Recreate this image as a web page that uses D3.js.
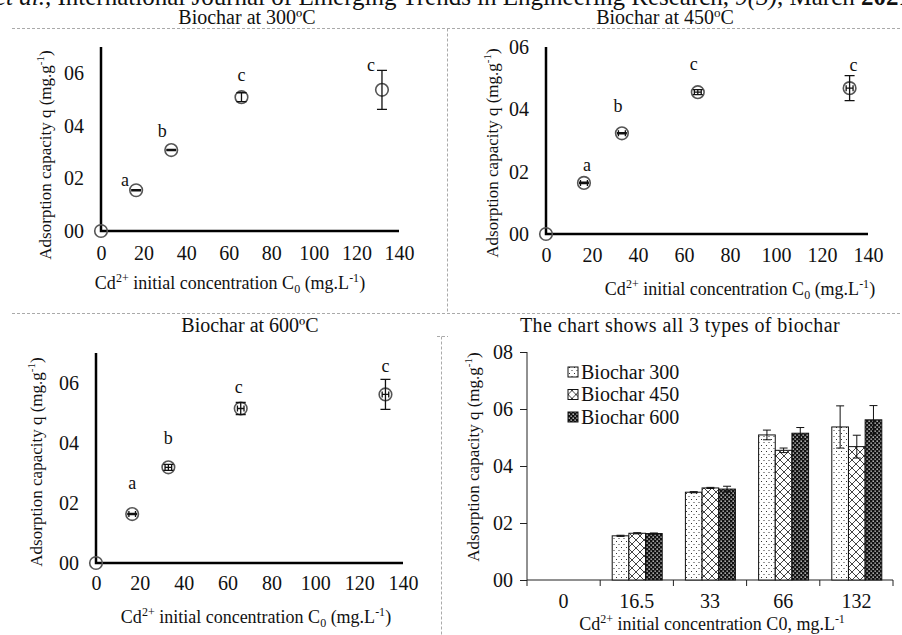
<!DOCTYPE html>
<html>
<head>
<meta charset="utf-8">
<script src="https://cdn.jsdelivr.net/npm/d3@7"></script>
<style>
  body { margin: 0; background: #fff; }
  svg { display: block; font-family: "Liberation Serif", "Times New Roman", serif; }
  svg text { font-family: "Liberation Serif", "Times New Roman", serif; }
</style>
</head>
<body>
<script>
const svgW = 902;
const svgH = 635;
const serif = '"Liberation Serif", "Times New Roman", serif';

// data
const concentrations = [0, 16.5, 33, 66, 132];
const categories = ['0', '16.5', '33', '66', '132'];
const seriesNames = ['Biochar 300', 'Biochar 450', 'Biochar 600'];
const q300 = [0, 0.0155, 0.0308, 0.0509, 0.0537];
const q450 = [0, 0.0164, 0.0323, 0.0455, 0.0468];
const q600 = [0, 0.0163, 0.0319, 0.0515, 0.0562];
const err300 = [0, 0.0002, 0.0002, 0.0017, 0.0074];
const err450 = [0, 0.0002, 0.0002, 0.0008, 0.0040];
const err600 = [0, 0.0002, 0.0010, 0.0020, 0.0050];
const xErr450 = [0, 1.5, 1.5, 1.5, 1.5];
const xErr600 = [0, 1.5, 1.5, 1.5, 1.5];
const letters = ['', 'a', 'b', 'c', 'c'];
const xTicks = [0, 20, 40, 60, 80, 100, 120, 140];
const yTicks = [0, 0.02, 0.04, 0.06, 0.08];
const yTickLabels = ['00', '02', '04', '06', '08'];

const svg = d3.select('body')
              .append('svg')
              .attr('width', svgW)
              .attr('height', svgH);

// patterns for the bars
const defs = svg.append('defs');
const pDots = defs.append('pattern').attr('id', 'p300')
  .attr('patternUnits', 'userSpaceOnUse').attr('width', 5).attr('height', 6);
pDots.append('rect').attr('width', 5).attr('height', 6).attr('fill', '#fff');
pDots.append('rect').attr('x', 1).attr('y', 1).attr('width', 1).attr('height', 1).attr('fill', '#333');
pDots.append('rect').attr('x', 3.5).attr('y', 4).attr('width', 1).attr('height', 1).attr('fill', '#333');

const pCross = defs.append('pattern').attr('id', 'p450')
  .attr('patternUnits', 'userSpaceOnUse').attr('width', 8).attr('height', 8);
pCross.append('rect').attr('width', 8).attr('height', 8).attr('fill', '#fff');
pCross.append('path').attr('d', 'M0,0L8,8M8,0L0,8')
  .attr('stroke', '#444').attr('stroke-width', 1).attr('fill', 'none');

const pDark = defs.append('pattern').attr('id', 'p600')
  .attr('patternUnits', 'userSpaceOnUse').attr('width', 4).attr('height', 4);
pDark.append('rect').attr('width', 4).attr('height', 4).attr('fill', '#111');
pDark.append('rect').attr('x', 0.5).attr('y', 0.5).attr('width', 1.3).attr('height', 1.3).attr('fill', '#fff');
pDark.append('rect').attr('x', 2.5).attr('y', 2.5).attr('width', 1.3).attr('height', 1.3).attr('fill', '#ddd');

const fills = ['url(#p300)', 'url(#p450)', 'url(#p600)'];

// text with super/subscripts
function richText(sel, parts, small) {
  parts.forEach(p => {
    const t = sel.append('tspan').text(p.t);
    if (p.s === 'sup') t.attr('font-size', small).attr('dy', -7);
    if (p.s === 'sub') t.attr('font-size', small).attr('dy', 4);
    if (p.back) t.attr('dy', p.back);
  });
}

// header line, cut off by the top of the page
const head = svg.append('text').attr('x', -5).attr('y', 5).attr('font-size', 25).attr('fill', '#111');
head.append('tspan').attr('font-style', 'italic').text('et al.,');
head.append('tspan').text(' International Journal of Emerging Trends in Engineering Research, ');
head.append('tspan').attr('font-style', 'italic').text('9(3)');
head.append('tspan').text(', March  ');
head.append('tspan').attr('font-weight', 'bold').text('2021');

// dashed panel borders
const dash = svg.append('g').attr('stroke', '#aaa').attr('stroke-dasharray', '3,2').attr('fill', 'none');
dash.append('path').attr('d', 'M12,28.5H902');
dash.append('path').attr('d', 'M447.5,28.5V313.5');
dash.append('path').attr('d', 'M12,313.5H902');
dash.append('path').attr('d', 'M437,336.5H448M441.5,336.5V635');

const xTitleParts = [
  {t: 'Cd'}, {t: '2+', s: 'sup'}, {t: ' initial concentration C', back: 7},
  {t: '0', s: 'sub'}, {t: ' (mg.L', back: -4}, {t: '-1', s: 'sup'}, {t: ')', back: 7}
];
const yTitleParts = [{t: 'Adsorption capacity q (mg.g'}, {t: '-1', s: 'sup'}, {t: ')', back: 7}];

function styleAxis(a) {
  a.attr('font-family', serif).attr('font-size', 20);
  a.selectAll('text').attr('font-family', serif).attr('font-size', 20).attr('fill', '#111');
}

function drawScatter(cfg) {
  const x = d3.scaleLinear().domain([0, 140]).range([cfg.x0, cfg.x1]);
  const y = d3.scaleLinear().domain([0, cfg.yMax]).range([cfg.yB, cfg.yT]);
  const g = svg.append('g');

  const ticksY = yTicks.filter(v => v <= cfg.yMax + 1e-9);
  const ay = g.append('g').attr('transform', `translate(${cfg.x0},0)`)
    .call(d3.axisLeft(y).tickValues(ticksY).tickSize(0).tickPadding(17)
      .tickFormat((d, i) => yTickLabels[i]));
  const ax = g.append('g').attr('transform', `translate(0,${cfg.yB})`)
    .call(d3.axisBottom(x).tickValues(xTicks).tickSize(0).tickPadding(cfg.xPad));
  [ay, ax].forEach(a => {
    a.select('.domain').remove();
    styleAxis(a);
  });

  g.append('path')
    .attr('d', `M${cfg.x0},${cfg.yT}V${cfg.yB}H${cfg.x1}`)
    .attr('fill', 'none').attr('stroke', '#000').attr('stroke-width', 2.5);

  const pts = concentrations.map((c, i) => ({c, q: cfg.q[i], e: cfg.err[i], xe: cfg.xErr ? cfg.xErr[i] : 0, l: letters[i], i}));

  const marks = g.selectAll('.pt').data(pts).enter().append('g').attr('class', 'pt');
  marks.append('circle')
    .attr('cx', d => x(d.c)).attr('cy', d => y(d.q)).attr('r', 6.3)
    .attr('fill', 'none').attr('stroke', '#555').attr('stroke-width', 1.6);
  marks.filter(d => d.i > 0).append('path')
    .attr('d', d => {
      const cx = x(d.c), t = y(d.q + d.e), b = y(d.q - d.e);
      let s = `M${cx},${t}V${b}M${cx - 5},${t}H${cx + 5}M${cx - 5},${b}H${cx + 5}`;
      if (d.xe) {
        const l = x(d.c - d.xe), r = x(d.c + d.xe), cy = y(d.q);
        s += `M${l},${cy}H${r}M${l},${cy - 3}V${cy + 3}M${r},${cy - 3}V${cy + 3}`;
      }
      return s;
    })
    .attr('fill', 'none').attr('stroke', '#111').attr('stroke-width', 1.3);

  marks.filter(d => d.l).append('text')
    .attr('x', d => x(d.c) + cfg.lblDx[d.i])
    .attr('y', d => y(d.q) - cfg.lblDy[d.i])
    .attr('text-anchor', 'middle').attr('font-size', 18).attr('fill', '#111')
    .text(d => d.l);

  const tt = g.append('text').attr('x', cfg.titleX).attr('y', cfg.titleY)
    .attr('text-anchor', 'middle').attr('font-size', 20).attr('fill', '#111');
  richText(tt, cfg.title, 13);

  const xt = g.append('text').attr('x', cfg.xtX).attr('y', cfg.xtY)
    .attr('text-anchor', 'middle').attr('font-size', 18).attr('fill', '#111');
  richText(xt, xTitleParts, 12);

  const yt = g.append('text')
    .attr('transform', `translate(${cfg.ytX},${cfg.ytY}) rotate(-90)`)
    .attr('text-anchor', 'middle').attr('font-size', 17).attr('fill', '#111');
  richText(yt, yTitleParts, 11);
}

drawScatter({
  x0: 101, x1: 399, yB: 231, yT: 47, yMax: 0.07, xPad: 15,
  q: q300, err: err300, xErr: null,
  lblDx: [0, -11, -9, 0, -11], lblDy: [0, 4, 13, 16, 19],
  title: [{t: 'Biochar at 300ºC'}], titleX: 247, titleY: 24,
  xtX: 230, xtY: 289, ytX: 51, ytY: 155
});
drawScatter({
  x0: 546, x1: 868, yB: 234, yT: 47, yMax: 0.06, xPad: 14,
  q: q450, err: err450, xErr: xErr450,
  lblDx: [0, 3, -4, -4, 4], lblDy: [0, 12, 21, 22, 17],
  title: [{t: 'Biochar at 450'}, {t: 'o', s: 'sup'}, {t: 'C', back: 7}], titleX: 665, titleY: 24,
  xtX: 740, xtY: 295, ytX: 498, ytY: 153
});
drawScatter({
  x0: 96, x1: 403, yB: 563, yT: 353, yMax: 0.07, xPad: 13,
  q: q600, err: err600, xErr: xErr600,
  lblDx: [0, 0, 0, -2, 0], lblDy: [0, 25, 23, 16, 22],
  title: [{t: 'Biochar at 600ºC'}], titleX: 250, titleY: 332,
  xtX: 256, xtY: 623, ytX: 42, ytY: 462
});

// bar chart with all three biochars
const bx0 = 527, bx1 = 893, byB = 580, byT = 352;
const xBand = d3.scaleBand().domain(categories).range([bx0, bx1]);
const xSub = d3.scaleBand().domain(seriesNames).range([12, 62]);
const yBar = d3.scaleLinear().domain([0, 0.08]).range([byB, byT]);
const qs = [q300, q450, q600];
const errs = [err300, err450, err600];

const gb = svg.append('g');
const ayb = gb.append('g').attr('transform', `translate(${bx0},0)`)
  .call(d3.axisLeft(yBar).tickValues(yTicks).tickSize(7).tickPadding(7)
    .tickFormat((d, i) => yTickLabels[i]));
const axb = gb.append('g').attr('transform', `translate(0,${byB})`)
  .call(d3.axisBottom(xBand).tickSize(0).tickPadding(14));
axb.select('.domain').remove();
[ayb, axb].forEach(a => {
  styleAxis(a);
  a.selectAll('line').attr('stroke', '#222');
});
ayb.select('.domain').attr('d', `M0,${byT}V${byB}`).attr('stroke', '#222');
gb.append('path').attr('d', `M${bx0},${byB}H${bx1}`).attr('stroke', '#222');
gb.selectAll('.bt').data(categories.concat(['end'])).enter().append('line')
  .attr('x1', d => d === 'end' ? bx1 : xBand(d)).attr('x2', d => d === 'end' ? bx1 : xBand(d))
  .attr('y1', byB).attr('y2', byB + 6).attr('stroke', '#222');

const rows = [];
categories.forEach((c, i) => seriesNames.forEach((s, j) => rows.push({c, s, j, v: qs[j][i], e: errs[j][i]})));
const bars = gb.selectAll('.bar').data(rows.filter(d => d.v > 0)).enter().append('g');
bars.append('rect')
  .attr('x', d => xBand(d.c) + xSub(d.s)).attr('y', d => yBar(d.v))
  .attr('width', xSub.bandwidth()).attr('height', d => byB - yBar(d.v))
  .attr('fill', d => fills[d.j]).attr('stroke', '#111').attr('stroke-width', 1);
bars.append('path')
  .attr('d', d => {
    const cx = xBand(d.c) + xSub(d.s) + xSub.bandwidth() / 2;
    const t = yBar(d.v + d.e), b = yBar(d.v - d.e);
    return `M${cx},${t}V${b}M${cx - 4},${t}H${cx + 4}M${cx - 4},${b}H${cx + 4}`;
  })
  .attr('fill', 'none').attr('stroke', '#111').attr('stroke-width', 1);

const leg = gb.selectAll('.leg').data(seriesNames).enter().append('g')
  .attr('transform', (d, i) => `translate(568,${372 + i * 22.5})`);
leg.append('rect').attr('x', 0).attr('y', -5).attr('width', 10).attr('height', 10)
  .attr('fill', (d, i) => fills[i]).attr('stroke', '#111');
leg.append('text').attr('x', 13).attr('y', 6.5).attr('font-size', 20).attr('fill', '#111').text(d => d);

gb.append('text').attr('x', 680).attr('y', 332).attr('text-anchor', 'middle')
  .attr('font-size', 20).attr('letter-spacing', 0.4).attr('fill', '#111')
  .text('The chart shows all 3 types of biochar');
const xtb = gb.append('text').attr('x', 712).attr('y', 630).attr('text-anchor', 'middle')
  .attr('font-size', 18).attr('fill', '#111');
richText(xtb, [{t: 'Cd'}, {t: '2+', s: 'sup'}, {t: ' initial concentration  C0, mg.L', back: 7}, {t: '-1', s: 'sup'}], 12);
const ytb = gb.append('text').attr('transform', `translate(479,457) rotate(-90)`)
  .attr('text-anchor', 'middle').attr('font-size', 17).attr('fill', '#111');
richText(ytb, yTitleParts, 11);
</script>
</body>
</html>
